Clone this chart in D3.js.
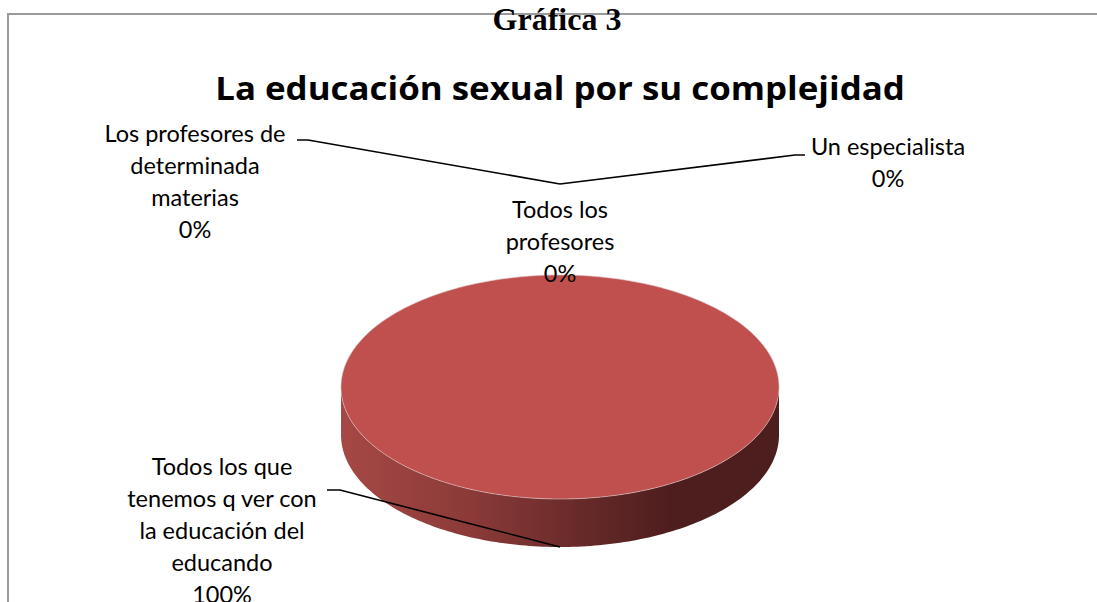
<!DOCTYPE html>
<html lang="es">
  <head>
    <meta charset="utf-8">
    <title>Gráfica 3</title>
    <style>
      body { margin: 0; background: #fff; }
      svg { display: block; }
      .lbl { font-family: Lato, 'Open Sans', sans-serif; font-size: 23.5px; fill: #000; }
      .title { font-family: 'Open Sans', Lato, sans-serif; font-size: 33px; font-weight: bold; }
      .caption { font-family: 'Liberation Serif', 'Times New Roman', serif; font-size: 32px; font-weight: bold; }
    </style>
  </head>
  <body>
    <div id="chart"></div>
    <script src="https://d3js.org/d3.v7.min.js"></script>
    <script>
      // data
      const categories = [
        ["Los profesores de", "determinada", "materias"],
        ["Un especialista"],
        ["Todos los", "profesores"],
        ["Todos los que", "tenemos q ver con", "la educación del", "educando"]
      ];
      const values = [0, 0, 0, 100];
      const caption = "Gráfica 3";
      const title = "La educación sexual por su complejidad";

      // where Excel put the labels (text centre, first baseline) and leader elbows
      const labelLayout = [
        { x: 195, y: 142, leader: [[297, 140], [308, 140]] },
        { x: 888, y: 155, leader: [[805, 155], [795, 155]] },
        { x: 560, y: 218, leader: null },
        { x: 222, y: 475, leader: [[327, 490], [340, 490]] }
      ];

      const W = 1097, H = 602;
      const cx = 560, cy = 387, rx = 219, ry = 112, depth = 48;
      const lineH = 32;
      const titleWidth = 690;

      const svg = d3.select("#chart").append("svg")
        .attr("width", W).attr("height", H);

      const defs = svg.append("defs");
      const grad = defs.append("linearGradient")
        .attr("id", "side").attr("gradientUnits", "userSpaceOnUse")
        .attr("x1", cx - rx).attr("x2", cx + rx).attr("y1", 0).attr("y2", 0);
      [[0, "#a64845"], [0.3, "#8a3a38"], [0.55, "#672a29"], [0.75, "#4e1e1e"], [1, "#4d1e1e"]]
        .forEach(s => grad.append("stop").attr("offset", s[0]).attr("stop-color", s[1]));

      // frame
      svg.append("path")
        .attr("d", `M8,${H} L8,14 L${W},14`)
        .attr("fill", "none").attr("stroke", "#9a9a9a").attr("stroke-width", 2);

      svg.append("text").attr("class", "caption")
        .attr("x", 557).attr("y", 30).attr("text-anchor", "middle").text(caption);

      const tt = svg.append("text").attr("class", "title")
        .attr("text-anchor", "middle").text(title);
      const tw = tt.node().getComputedTextLength();
      tt.attr("transform", `translate(${cx},100) scale(${titleWidth / tw},1)`);

      // pie geometry
      const pie = d3.pie().sort(null).value(d => d).startAngle(0).endAngle(2 * Math.PI);
      const arcs = pie(values);
      const pt = (a, dy = 0) => [cx + rx * Math.sin(a), cy - ry * Math.cos(a) + dy];

      function arcPoints(a0, a1, dy) {
        const n = Math.max(2, Math.ceil((a1 - a0) / 0.02));
        return d3.range(n + 1).map(i => pt(a0 + (a1 - a0) * i / n, dy));
      }

      const line = d3.line();
      const pieG = svg.append("g");

      // side walls (front half only)
      arcs.forEach(a => {
        const s = Math.max(a.startAngle, Math.PI / 2);
        const e = Math.min(a.endAngle, 3 * Math.PI / 2);
        if (e <= s) return;
        const top = arcPoints(s, e, 0);
        const bot = arcPoints(s, e, depth).reverse();
        pieG.append("path").attr("d", line(top.concat(bot)) + "Z")
          .attr("fill", "url(#side)");
      });

      // top faces
      arcs.forEach(a => {
        if (a.endAngle - a.startAngle <= 0) return;
        let d;
        if (a.endAngle - a.startAngle >= 2 * Math.PI - 1e-6) {
          d = line(arcPoints(a.startAngle, a.endAngle, 0)) + "Z";
        } else {
          d = line([[cx, cy]].concat(arcPoints(a.startAngle, a.endAngle, 0))) + "Z";
        }
        pieG.append("path").attr("d", d).attr("fill", "#c0504d")
          .attr("stroke", "#d8c4c4").attr("stroke-width", 0.6);
      });

      // labels
      const total = d3.sum(values);
      const pct = d3.format(".0%");
      const labelG = svg.append("g");

      arcs.forEach((a, i) => {
        const lay = labelLayout[i];
        const mid = (a.startAngle + a.endAngle) / 2;
        if (lay.leader) {
          // back slices: anchor lifted above the rim, front: bottom of the wall
          const p = pt(mid, 0);
          const anchor = Math.cos(mid) > 0 ? [p[0], p[1] - 91] : [p[0], p[1] + depth];
          labelG.append("path")
            .attr("d", line(lay.leader.concat([anchor])))
            .attr("fill", "none").attr("stroke", "#000").attr("stroke-width", 1.6);
        }
        const lines = categories[i].concat([pct(values[i] / total)]);
        const t = labelG.append("text").attr("class", "lbl").attr("text-anchor", "middle");
        lines.forEach((s, j) => {
          t.append("tspan").attr("x", lay.x).attr("y", lay.y + j * lineH).text(s);
        });
      });
    </script>
  </body>
</html>
